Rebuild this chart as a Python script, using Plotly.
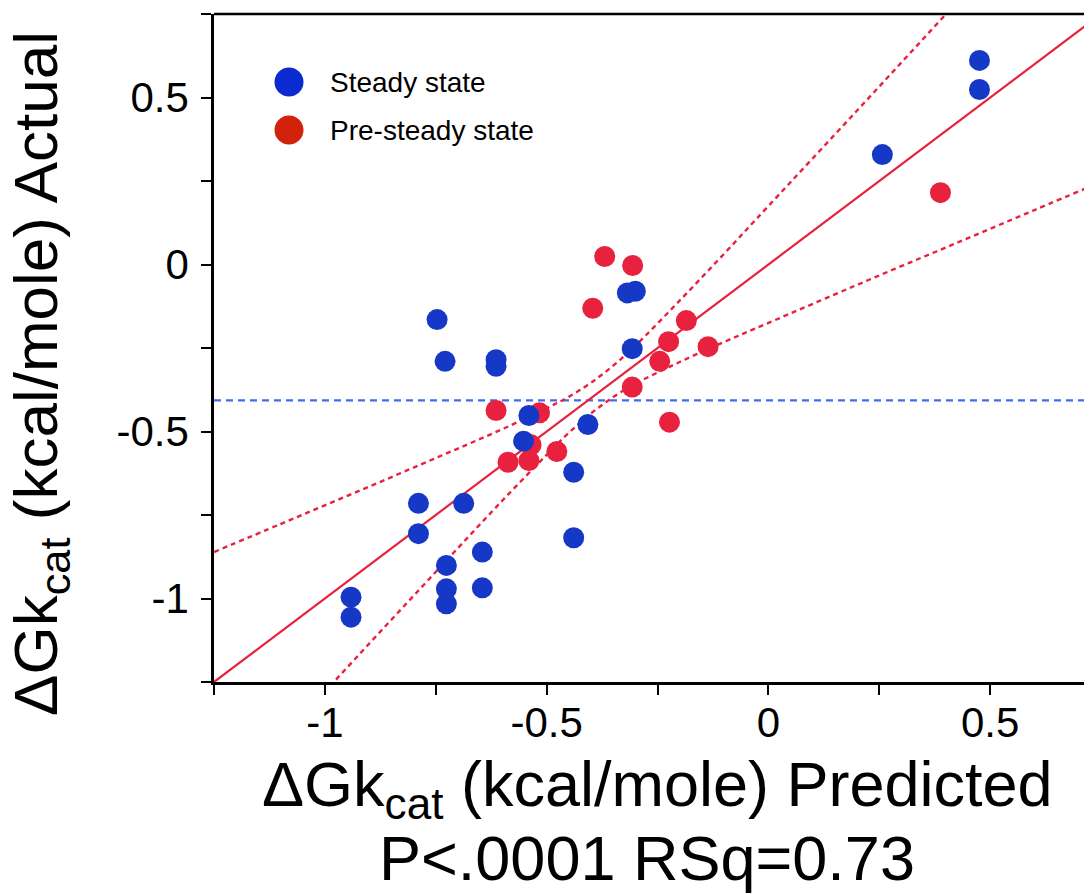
import plotly.graph_objects as go

# ---- data ----
steady_x = [0.476, 0.476, 0.257, -0.747, -0.729, -0.614, -0.614, -0.540, -0.552,
            -0.789, -0.687, -0.789, -0.645, -0.726, -0.726, -0.726, -0.645,
            -0.941, -0.941, -0.318, -0.300, -0.307, -0.407, -0.439, -0.439]
steady_y = [0.611, 0.524, 0.329, -0.165, -0.290, -0.285, -0.305, -0.452, -0.529,
            -0.715, -0.715, -0.806, -0.861, -0.901, -0.971, -1.016, -0.968,
            -0.996, -1.056, -0.085, -0.080, -0.252, -0.479, -0.622, -0.818]

pre_x = [0.388, -0.614, -0.516, -0.535, -0.587, -0.540, -0.477, -0.369, -0.306,
         -0.396, -0.185, -0.225, -0.136, -0.245, -0.307, -0.223]
pre_y = [0.215, -0.437, -0.444, -0.540, -0.592, -0.587, -0.560, 0.024, -0.003,
         -0.131, -0.168, -0.231, -0.246, -0.290, -0.367, -0.472]

fit_x = [-1.25, 0.75]
fit_slope = 1.0
fit_intercept = 0.0

band_x = [-1.25, -1.1, -1.0, -0.9, -0.8, -0.7, -0.6, -0.5, -0.45, -0.4, -0.35,
          -0.3, -0.2, -0.1, 0.0, 0.2, 0.4, 0.6, 0.75]
band_upper = [-0.861, -0.777, -0.721, -0.665, -0.608, -0.551, -0.493, -0.430, -0.396,
              -0.354, -0.303, -0.243, -0.108, 0.032, 0.175, 0.461, 0.749, 1.037, 1.254]
band_lower = [-1.639, -1.423, -1.279, -1.135, -0.992, -0.849, -0.707, -0.570, -0.504,
              -0.446, -0.397, -0.357, -0.292, -0.232, -0.175, -0.061, 0.051, 0.163, 0.247]

mean_y = -0.407

tick_vals = [-1, -0.5, 0, 0.5]
tick_text = ["-1", "-0.5", "0", "0.5"]

x_title = "ΔGk<sub>cat</sub> (kcal/mole) Predicted"
y_title = "ΔGk<sub>cat</sub> (kcal/mole) Actual"
stat_text = "P<.0001 RSq=0.73"
legend_names = ["Steady state", "Pre-steady state"]

# ---- styles ----
FONT = "Liberation Sans, Arial, sans-serif"
BLUE = "#1539c6"
RED = "#e8213e"
LEG_BLUE = "#0b2bd0"
LEG_RED = "#d2220c"

OFF = 8  # default page body margin
W, H = 1092 - OFF, 894 - OFF
ML, MR, MT, MB = 214 - OFF, 0, 14 - OFF, 212
PW, PH = W - ML - MR, H - MT - MB
XMIN = -1.25
XMAX = XMIN + PW / 443.5

def px_to_paper(px, py):
    # px, py are page pixel positions
    fx, fy = px - OFF, py - OFF
    return (fx - ML) / PW, (H - MB - fy) / PH

fig = go.Figure()

fit_y = [fit_slope * v + fit_intercept for v in fit_x]

fig.add_trace(go.Scatter(x=[XMIN, XMAX], y=[mean_y, mean_y], mode="lines",
                         line=dict(color="#3d6cf0", width=2.2, dash="7px,5px"),
                         showlegend=False, hoverinfo="skip"))
fig.add_trace(go.Scatter(x=band_x, y=band_upper, mode="lines",
                         line=dict(color=RED, width=2.4, dash="5px,4px", shape="spline"),
                         showlegend=False, hoverinfo="skip"))
fig.add_trace(go.Scatter(x=band_x, y=band_lower, mode="lines",
                         line=dict(color=RED, width=2.4, dash="5px,4px", shape="spline"),
                         showlegend=False, hoverinfo="skip"))
fig.add_trace(go.Scatter(x=fit_x, y=fit_y, mode="lines",
                         line=dict(color=RED, width=2.2),
                         showlegend=False, hoverinfo="skip"))
fig.add_trace(go.Scatter(x=pre_x, y=pre_y, mode="markers", name=legend_names[1],
                         marker=dict(color=RED, size=21, line=dict(width=0)),
                         showlegend=False, cliponaxis=False))
fig.add_trace(go.Scatter(x=steady_x, y=steady_y, mode="markers", name=legend_names[0],
                         marker=dict(color=BLUE, size=21, line=dict(width=0)),
                         showlegend=False, cliponaxis=False))

axis_common = dict(
    showline=True, linecolor="black", linewidth=2.5,
    ticks="outside", ticklen=10, tickwidth=2, tickcolor="black",
    showgrid=False, zeroline=False, automargin=False,
    tickvals=tick_vals, ticktext=tick_text,
    tickfont=dict(family=FONT, size=42, color="black"),
    minor=dict(tickvals=[-1.25, -1, -0.75, -0.5, -0.25, 0, 0.25, 0.5, 0.75],
               ticks="outside", ticklen=10, tickwidth=2, tickcolor="black", showgrid=False),
)

fig.update_xaxes(range=[XMIN, XMAX], ticklabelstandoff=-8, **axis_common)
fig.update_yaxes(range=[-1.25, 0.75], ticklabelstandoff=4, **axis_common)

shapes = []
# top frame line
shapes.append(dict(type="line", xref="paper", yref="paper", x0=0, x1=1, y0=1, y1=1,
                   line=dict(color="black", width=2.5)))
# legend symbols
for (cy, col) in [(82, LEG_BLUE), (130, LEG_RED)]:
    x0, y0 = px_to_paper(289 - 14.5, cy + 14.5)
    x1, y1 = px_to_paper(289 + 14.5, cy - 14.5)
    shapes.append(dict(type="circle", xref="paper", yref="paper",
                       x0=x0, x1=x1, y0=y0, y1=y1, fillcolor=col, line=dict(width=0)))

annotations = []
for (cy, name) in [(82, legend_names[0]), (130, legend_names[1])]:
    ax, ay = px_to_paper(328, cy)
    annotations.append(dict(text=name, xref="paper", yref="paper", x=ax, y=ay,
                            xanchor="left", yanchor="middle", showarrow=False,
                            font=dict(family=FONT, size=28, color="black")))

ax, ay = px_to_paper(657, 788)
annotations.append(dict(text=x_title, xref="paper", yref="paper", x=ax, y=ay,
                        xanchor="center", yanchor="middle", showarrow=False,
                        font=dict(family=FONT, size=63, color="black")))
ax, ay = px_to_paper(647, 858)
annotations.append(dict(text=stat_text, xref="paper", yref="paper", x=ax, y=ay,
                        xanchor="center", yanchor="middle", showarrow=False,
                        font=dict(family=FONT, size=63, color="black")))
ax, ay = px_to_paper(40, 374)
annotations.append(dict(text=y_title, xref="paper", yref="paper", x=ax, y=ay,
                        xanchor="center", yanchor="middle", showarrow=False, textangle=-90,
                        font=dict(family=FONT, size=62, color="black")))

fig.update_layout(
    width=W, height=H,
    margin=dict(l=ML, r=MR, t=MT, b=MB, pad=0, autoexpand=False),
    paper_bgcolor="white", plot_bgcolor="white",
    showlegend=False,
    shapes=shapes, annotations=annotations,
    font=dict(family=FONT),
)

fig.write_html("out.html")
